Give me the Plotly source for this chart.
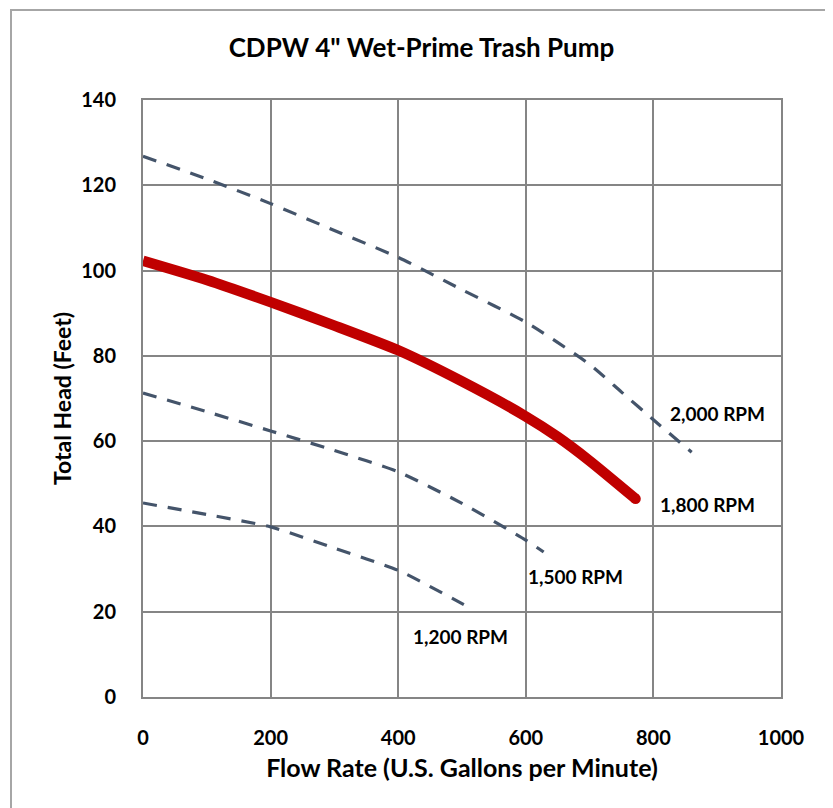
import plotly.graph_objects as go

# ---- data ----
flow_2000 = [0, 100, 200, 300, 400, 500, 600, 700, 750, 800, 860]
head_2000 = [126.8, 121.5, 115.7, 109.4, 103.1, 95.5, 87.9, 78.0, 71.5, 65.0, 57.4]

flow_1800 = [0, 100, 200, 300, 400, 500, 600, 650, 700, 772]
head_1800 = [102.3, 97.8, 92.6, 87.1, 81.3, 74.0, 65.8, 61.0, 55.4, 46.5]

flow_1500 = [0, 100, 200, 300, 400, 500, 600, 628]
head_1500 = [71.3, 66.9, 62.4, 57.8, 52.8, 45.4, 36.8, 34.0]

flow_1200 = [0, 100, 200, 300, 400, 500, 516]
head_1200 = [45.5, 42.8, 39.9, 34.9, 29.7, 21.9, 20.6]

series_names = ["2,000 RPM", "1,800 RPM", "1,500 RPM", "1,200 RPM"]
x_ticks = [0, 200, 400, 600, 800, 1000]
y_ticks = [0, 20, 40, 60, 80, 100, 120, 140]

FONT = "Lato, 'Open Sans', Arial, sans-serif"
DASH_COLOR = "#44546A"
RED = "#C00000"
GRID = "#858585"

fig = go.Figure()

dash_style = dict(color=DASH_COLOR, width=3.2, dash="14px,11px", shape="spline", smoothing=0.6)

fig.add_trace(go.Scatter(x=flow_2000, y=head_2000, mode="lines", name=series_names[0],
                         line=dash_style, hoverinfo="x+y+name"))
fig.add_trace(go.Scatter(x=flow_1500, y=head_1500, mode="lines", name=series_names[2],
                         line=dash_style, hoverinfo="x+y+name"))
fig.add_trace(go.Scatter(x=flow_1200, y=head_1200, mode="lines", name=series_names[3],
                         line=dash_style, hoverinfo="x+y+name"))
fig.add_trace(go.Scatter(x=flow_1800, y=head_1800, mode="lines", name=series_names[1],
                         line=dict(color=RED, width=10.5, shape="spline", smoothing=0.6),
                         hoverinfo="x+y+name"))
# rounded end cap of the thick curve
fig.add_trace(go.Scatter(x=flow_1800[-1:], y=head_1800[-1:], mode="markers",
                         marker=dict(color=RED, size=10.5, line=dict(width=0)),
                         hoverinfo="skip", showlegend=False))

label_font = dict(family=FONT, size=19, color="#000000")
label_pos = {
    "2,000 RPM": (901, 66.5),
    "1,800 RPM": (885, 45.2),
    "1,500 RPM": (678, 28.3),
    "1,200 RPM": (498, 14.3),
}
for name in series_names:
    lx, ly = label_pos[name]
    fig.add_annotation(x=lx, y=ly, text=f"<b>{name}</b>", showarrow=False,
                       xanchor="center", yanchor="middle", font=label_font)

# page has an 8px body margin, so the figure is sized 8px smaller
OFF = 8
W, H = 833 - OFF, 808 - OFF
L, T = 143 - OFF, 100 - OFF
R = W - (781 - OFF)
B = H - (697 - OFF)

# outer chart border (paper coords relative to plot area)
pw, ph = W - L - R, H - T - B
fig.add_shape(type="rect", xref="paper", yref="paper",
              x0=(11 - OFF - L) / pw, x1=(W + 10 - L) / pw,
              y0=((H - B) - (H + 10)) / ph, y1=((H - B) - (10 - OFF)) / ph,
              line=dict(color="#A6A6A6", width=2), fillcolor="rgba(0,0,0,0)", layer="below")

fig.update_layout(
    width=W, height=H,
    margin=dict(l=L, r=R, t=T, b=B, autoexpand=False),
    paper_bgcolor="white", plot_bgcolor="white",
    showlegend=False,
    title=dict(text="<b>CDPW 4\" Wet-Prime Trash Pump</b>",
               x=(421.5 - OFF) / W, y=1 - (48 - OFF) / H,
               xref="container", yref="container",
               xanchor="center", yanchor="middle",
               font=dict(family=FONT, size=26, color="#000000")),
    font=dict(family=FONT, color="#000000"),
)

fig.update_xaxes(
    range=[0, 1000], tickvals=x_ticks, ticktext=[f"<b>{v}</b>" for v in x_ticks],
    showgrid=True, gridcolor=GRID, gridwidth=1.5,
    showline=True, linecolor=GRID, linewidth=2, mirror=True,
    zeroline=False, ticks="", ticklabelstandoff=22,
    tickfont=dict(family=FONT, size=20, color="#000000"),
    title=dict(text="<b>Flow Rate (U.S. Gallons per Minute)</b>", standoff=11,
               font=dict(family=FONT, size=25, color="#000000")),
)
fig.update_yaxes(
    range=[0, 140], tickvals=y_ticks, ticktext=[f"<b>{v}</b>" for v in y_ticks],
    showgrid=True, gridcolor=GRID, gridwidth=1.5,
    showline=True, linecolor=GRID, linewidth=2, mirror=True,
    zeroline=False, ticks="", ticklabelstandoff=21,
    tickfont=dict(family=FONT, size=20, color="#000000"),
    title=dict(text="<b>Total Head (Feet)</b>", standoff=3,
               font=dict(family=FONT, size=23, color="#000000")),
)

fig.write_html("out.html")
